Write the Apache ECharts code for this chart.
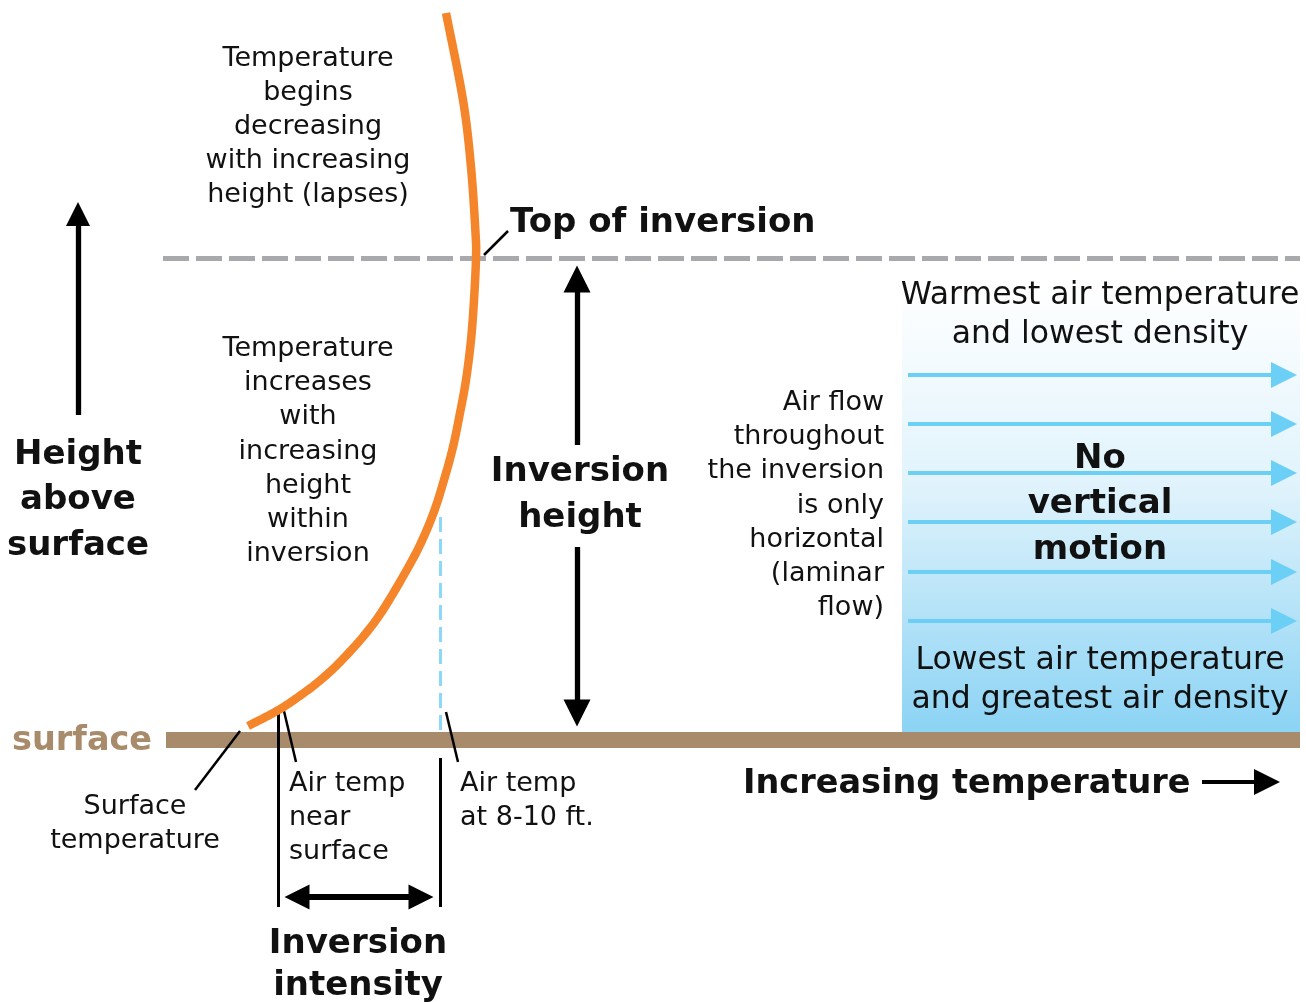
<!DOCTYPE html>
<html>
<head>
<meta charset="utf-8">
<script src="https://cdn.jsdelivr.net/npm/echarts@6/dist/echarts.min.js"></script>
<style>
  html, body { margin: 0; padding: 0; background: #fff; }
  #chart { width: 1306px; height: 1002px; }
</style>
</head>
<body>
<div id="chart"></div>
<script>
// temperature profile (x = temperature, y = height, screen units)
var profileTemp   = [446, 463, 471, 475.5, 476, 474, 471, 466, 460, 453, 444, 433.5, 419, 401, 381, 364.5, 349.5, 334, 317, 301, 285, 269.5, 248];
var profileHeight = [ 13, 100, 167, 233,   258, 300, 340, 380, 413, 447, 480, 513,   547, 580, 613, 635,   652,   668, 683, 695, 706, 715,   726];

// laminar flow arrows rows
var flowRows = [375, 424, 473, 522, 572, 621];

var surfaceY = 740;
var topY = 258;

var chart = echarts.init(document.getElementById('chart'));

var FONT = '"DejaVu Sans", "Noto Sans", sans-serif';

function txt(str, x, y0, size, lh, align, bold, color){
    return {
        type: 'text',
        z: 100,
        style: {
            text: str,
            x: x,
            y: y0 - lh / 2 + (bold ? 3 : 2),
            fill: color || '#111',
            fontFamily: FONT,
            fontSize: size,
            fontWeight: bold ? 'bold' : 'normal',
            lineHeight: lh,
            textAlign: align,
            textVerticalAlign: 'top'
        }
    };
}

function seg(x1, y1, x2, y2, style, sym, symSize){
    style.opacity = 1;
    style.cap = 'butt';
    var item = { coords: [[x1, y1], [x2, y2]], lineStyle: style };
    item.symbol = sym || ['none', 'none'];
    item.symbolSize = symSize || 10;
    return item;
}

function black(w){ return { color: '#000', width: w, type: 'solid' }; }

var arrows = [
    // height above surface
    seg(78, 415, 78, 214, black(5.3), ['none', 'triangle'], [28, 24]),
    // inversion height
    seg(577, 445, 577, 279, black(5.3), ['none', 'triangle'], [29, 27]),
    seg(577, 547, 577, 713, black(5.3), ['none', 'triangle'], [29, 27]),
    // inversion intensity
    seg(297, 897, 421, 897, black(6), ['triangle', 'triangle'], [25, 25]),
    seg(278, 712, 278, 907, black(3)),
    seg(440, 758, 440, 907, black(3)),
    // increasing temperature
    seg(1202, 782, 1267, 782, black(4), ['none', 'triangle'], [26, 26]),
    // leader lines
    seg(195, 790, 240, 731, black(2.5)),
    seg(284, 711, 296, 762, black(2.5)),
    seg(446, 712, 458, 762, black(2.5)),
    seg(484, 255, 508, 231, black(2.5))
];

var flowLines = flowRows.map(function(y){
    return seg(908, y, 1284, y, { color: '#6CCFF6', width: 4, type: 'solid' }, ['none', 'triangle'], [28, 26]);
});

var guides = [
    seg(163, topY, 1300, topY, { color: '#A7A9AC', width: 5, type: [26, 7] }),
    seg(440, 517, 440, 730, { color: '#8DD8F8', width: 3, type: [15, 7] }),
    seg(166, surfaceY, 1300, surfaceY, { color: '#A88B6A', width: 16, type: 'solid' })
];

// catmull-rom through the projected points
function splinePoints(pts){
    var out = [];
    for (var i = 0; i < pts.length - 1; i++) {
        var p0 = pts[Math.max(i - 1, 0)], p1 = pts[i], p2 = pts[i + 1], p3 = pts[Math.min(i + 2, pts.length - 1)];
        for (var s = 0; s < 12; s++) {
            var t = s / 12, t2 = t * t, t3 = t2 * t;
            out.push([
                0.5 * (2 * p1[0] + (-p0[0] + p2[0]) * t + (2 * p0[0] - 5 * p1[0] + 4 * p2[0] - p3[0]) * t2 + (-p0[0] + 3 * p1[0] - 3 * p2[0] + p3[0]) * t3),
                0.5 * (2 * p1[1] + (-p0[1] + p2[1]) * t + (2 * p0[1] - 5 * p1[1] + 4 * p2[1] - p3[1]) * t2 + (-p0[1] + 3 * p1[1] - 3 * p2[1] + p3[1]) * t3)
            ]);
        }
    }
    out.push(pts[pts.length - 1]);
    return out;
}

var option = {
    animation: false,
    backgroundColor: '#fff',
    grid: { left: 0, right: 0, top: 0, bottom: 0 },
    xAxis: { type: 'value', min: 0, max: 1306, show: false },
    yAxis: { type: 'value', min: 0, max: 1002, inverse: true, show: false },
    graphic: [
        {
            type: 'rect',
            z: 0,
            shape: { x: 902, y: 285, width: 398, height: 448 },
            style: {
                fill: {
                    type: 'linear', x: 0, y: 0, x2: 0, y2: 1,
                    colorStops: [
                        { offset: 0, color: '#ffffff' },
                        { offset: 0.45, color: '#E0F3FC' },
                        { offset: 1, color: '#8BD3F4' }
                    ]
                }
            }
        },
        txt('Temperature\nbegins\ndecreasing\nwith increasing\nheight (lapses)', 308, 57, 27, 34, 'center'),
        txt('Temperature\nincreases\nwith\nincreasing\nheight\nwithin\ninversion', 308, 347, 27, 34.2, 'center'),
        txt('Top of inversion', 510, 220, 34, 40, 'left', true),
        txt('Height\nabove\nsurface', 78, 452, 34, 45.5, 'center', true),
        txt('Inversion\nheight', 580, 469, 34, 46, 'center', true),
        txt('Air flow\nthroughout\nthe inversion\nis only\nhorizontal\n(laminar\nflow)', 884, 401, 27, 34.2, 'right'),
        txt('Warmest air temperature\nand lowest density', 1100, 294, 31.5, 39, 'center'),
        txt('No\nvertical\nmotion', 1100, 456, 34, 45.5, 'center', true),
        txt('Lowest air temperature\nand greatest air density', 1100, 659, 31.5, 39, 'center'),
        txt('surface', 12, 738, 33.5, 40, 'left', true, '#A88B6A'),
        txt('Surface\ntemperature', 135, 805, 27, 34, 'center'),
        txt('Air temp\nnear\nsurface', 289, 782, 27, 34, 'left'),
        txt('Air temp\nat 8-10 ft.', 460, 782, 27, 34, 'left'),
        txt('Increasing temperature', 743, 781, 33.5, 40, 'left', true),
        txt('Inversion\nintensity', 358, 941, 34, 42, 'center', true)
    ],
    series: [
        {
            name: 'guides',
            type: 'lines',
            coordinateSystem: 'cartesian2d',
            z: 1,
            silent: true,
            data: guides
        },
        {
            name: 'flow',
            type: 'lines',
            coordinateSystem: 'cartesian2d',
            z: 2,
            silent: true,
            itemStyle: { color: '#6CCFF6' },
            data: flowLines
        },
        {
            name: 'arrows',
            type: 'lines',
            coordinateSystem: 'cartesian2d',
            z: 3,
            silent: true,
            itemStyle: { color: '#000' },
            data: arrows
        },
        {
            name: 'profile',
            type: 'custom',
            z: 4,
            silent: true,
            data: profileTemp.map(function(t, i){ return [t, profileHeight[i]]; }),
            renderItem: function(params, api){
                if (params.dataIndex !== 0) return null;
                var pts = profileTemp.map(function(t, i){ return api.coord([t, profileHeight[i]]); });
                return {
                    type: 'polyline',
                    shape: { points: splinePoints(pts) },
                    style: { stroke: '#F5852A', lineWidth: 8.5, fill: null, lineCap: 'butt', lineJoin: 'round' }
                };
            }
        }
    ]
};

chart.setOption(option);
</script>
</body>
</html>
